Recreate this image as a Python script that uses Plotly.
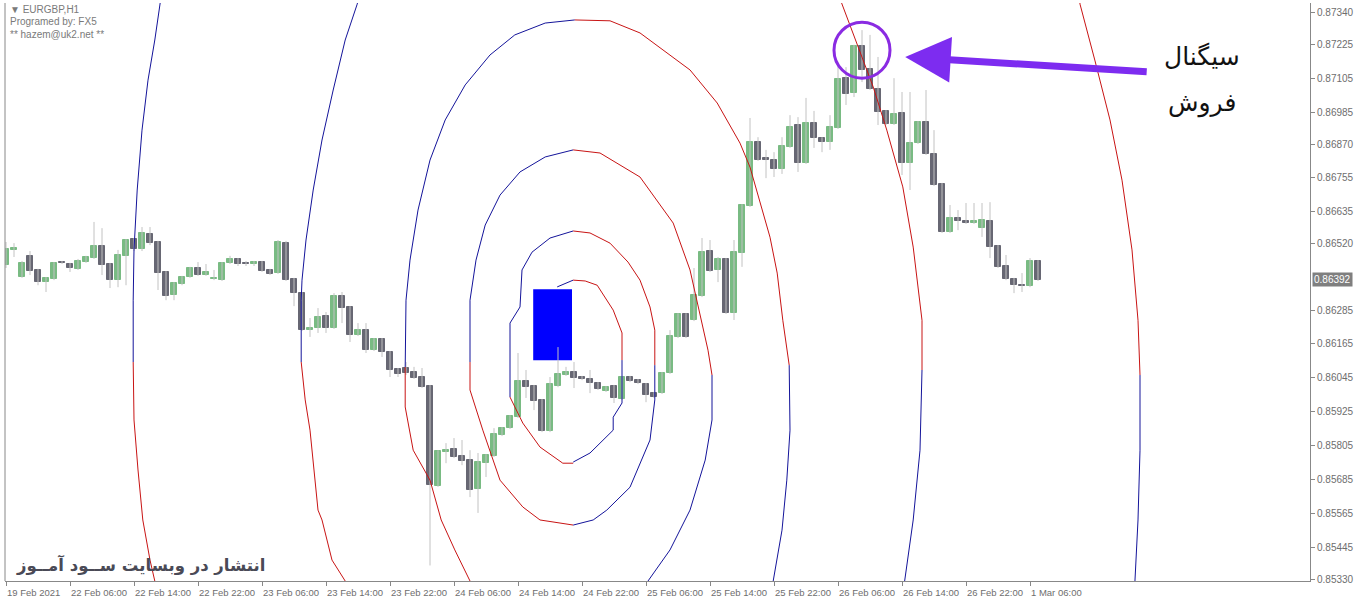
import plotly.graph_objects as go

# ---------------- data ----------------
opens = [0.86445,0.86498,0.86402,0.86477,0.86427,0.86384,0.86395,0.86455,0.86448,0.86431,
         0.86455,0.86469,0.86512,0.86448,0.86391,0.86477,0.86536,0.86501,0.86554,0.86526,
         0.86420,0.86338,0.86377,0.86402,0.86434,0.86409,0.86395,0.86391,0.86452,0.86466,
         0.86452,0.86448,0.86455,0.86427,0.86416,0.86522,0.86395,0.86345,0.86214,0.86221,
         0.86264,0.86221,0.86335,0.86295,0.86197,0.86214,0.86143,0.86182,0.86136,0.86077,
         0.86080,0.86066,0.86048,0.86016,0.85662,0.85782,0.85793,0.85768,0.85754,0.85651,
         0.85743,0.85768,0.85843,0.85867,0.85906,0.86034,0.86016,0.85967,0.85857,0.86016,
         0.86055,0.86066,0.86048,0.86041,0.86027,0.85998,0.86016,0.85970,0.86048,0.86037,
         0.86023,0.85991,0.85991,0.86062,0.86190,0.86271,0.86250,0.86335,0.86494,0.86427,
         0.86466,0.86274,0.86487,0.86653,0.86880,0.86823,0.86816,0.86784,0.86862,0.86940,
         0.86805,0.86947,0.86894,0.86880,0.86929,0.87106,0.87053,0.87220,0.87138,0.87067,
         0.86990,0.86944,0.86983,0.86805,0.86876,0.86951,0.86837,0.86731,0.86561,0.86611,
         0.86600,0.86593,0.86575,0.86600,0.86512,0.86441,0.86395,0.86373,0.86370,0.86459]
highs = [0.86526,0.86522,0.86459,0.86494,0.86431,0.86402,0.86455,0.86459,0.86452,0.86466,
         0.86477,0.86597,0.86575,0.86452,0.86498,0.86536,0.86540,0.86579,0.86579,0.86530,
         0.86423,0.86384,0.86406,0.86438,0.86455,0.86448,0.86427,0.86455,0.86477,0.86469,
         0.86459,0.86459,0.86459,0.86431,0.86533,0.86530,0.86399,0.86349,0.86257,0.86292,
         0.86278,0.86345,0.86349,0.86299,0.86239,0.86239,0.86186,0.86186,0.86140,0.86080,
         0.86101,0.86084,0.86080,0.86020,0.85789,0.85814,0.85832,0.85825,0.85789,0.85779,
         0.85775,0.85867,0.85871,0.85913,0.86133,0.86073,0.86020,0.85970,0.86048,0.86154,
         0.86084,0.86101,0.86052,0.86073,0.86030,0.86016,0.86020,0.86052,0.86052,0.86041,
         0.86027,0.85995,0.86066,0.86214,0.86274,0.86274,0.86434,0.86540,0.86533,0.86473,
         0.86469,0.86533,0.86660,0.86965,0.86897,0.86852,0.86844,0.86897,0.86975,0.86968,
         0.87036,0.86990,0.86897,0.86975,0.87145,0.87145,0.87224,0.87276,0.87259,0.87181,
         0.86993,0.87106,0.87057,0.87057,0.86954,0.87064,0.86922,0.86735,0.86657,0.86639,
         0.86664,0.86664,0.86664,0.86667,0.86515,0.86480,0.86399,0.86416,0.86469,0.86462]
lows = [0.86434,0.86473,0.86399,0.86409,0.86373,0.86349,0.86391,0.86448,0.86420,0.86427,
        0.86452,0.86466,0.86409,0.86363,0.86366,0.86373,0.86494,0.86494,0.86515,0.86356,
        0.86320,0.86320,0.86373,0.86399,0.86406,0.86406,0.86391,0.86388,0.86448,0.86441,
        0.86441,0.86441,0.86420,0.86409,0.86413,0.86388,0.86299,0.86211,0.86190,0.86204,
        0.86204,0.86218,0.86239,0.86172,0.86193,0.86133,0.86140,0.86119,0.86048,0.86048,
        0.86055,0.86041,0.86009,0.85381,0.85659,0.85743,0.85761,0.85736,0.85623,0.85567,
        0.85694,0.85765,0.85839,0.85864,0.85903,0.85974,0.85931,0.85853,0.85853,0.86012,
        0.86052,0.86009,0.86037,0.85991,0.86002,0.85995,0.85956,0.85967,0.86030,0.86023,
        0.85959,0.85974,0.85988,0.86059,0.86186,0.86186,0.86246,0.86331,0.86420,0.86384,
        0.86271,0.86250,0.86438,0.86650,0.86813,0.86752,0.86756,0.86767,0.86859,0.86774,
        0.86802,0.86859,0.86844,0.86852,0.86926,0.87011,0.87039,0.87092,0.87064,0.86940,
        0.86940,0.86940,0.86763,0.86710,0.86873,0.86834,0.86724,0.86558,0.86558,0.86568,
        0.86590,0.86590,0.86544,0.86469,0.86434,0.86391,0.86345,0.86349,0.86366,0.86388]
closes = [0.86501,0.86504,0.86452,0.86423,0.86384,0.86399,0.86452,0.86452,0.86434,0.86459,
          0.86473,0.86512,0.86445,0.86391,0.86480,0.86533,0.86501,0.86558,0.86522,0.86416,
          0.86335,0.86381,0.86402,0.86434,0.86409,0.86420,0.86399,0.86452,0.86466,0.86448,
          0.86448,0.86455,0.86423,0.86413,0.86526,0.86391,0.86345,0.86214,0.86221,0.86260,
          0.86221,0.86335,0.86292,0.86197,0.86214,0.86143,0.86182,0.86136,0.86073,0.86059,
          0.86062,0.86044,0.86012,0.85666,0.85786,0.85789,0.85765,0.85750,0.85648,0.85747,
          0.85772,0.85846,0.85867,0.85910,0.86034,0.86012,0.85963,0.85857,0.86023,0.86059,
          0.86066,0.86044,0.86041,0.86027,0.86005,0.86012,0.85974,0.86048,0.86034,0.86027,
          0.85984,0.85977,0.86062,0.86193,0.86271,0.86190,0.86338,0.86491,0.86423,0.86466,
          0.86274,0.86491,0.86657,0.86880,0.86816,0.86816,0.86784,0.86866,0.86933,0.86805,
          0.86947,0.86894,0.86880,0.86933,0.87103,0.87050,0.87220,0.87135,0.87067,0.86986,
          0.86944,0.86979,0.86805,0.86876,0.86951,0.86837,0.86728,0.86561,0.86611,0.86600,
          0.86593,0.86600,0.86604,0.86508,0.86438,0.86395,0.86373,0.86370,0.86459,0.86392]

x_tick_bars = [0, 8, 16, 24, 32, 40, 48, 56, 64, 72, 80, 88, 96, 104, 112, 120, 128]
x_tick_labels = ["19 Feb 2021", "22 Feb 06:00", "22 Feb 14:00", "22 Feb 22:00", "23 Feb 06:00",
                 "23 Feb 14:00", "23 Feb 22:00", "24 Feb 06:00", "24 Feb 14:00", "24 Feb 22:00",
                 "25 Feb 06:00", "25 Feb 14:00", "25 Feb 22:00", "26 Feb 06:00", "26 Feb 14:00",
                 "26 Feb 22:00", "1 Mar 06:00"]
y_tick_vals = [0.87340, 0.87225, 0.87105, 0.86985, 0.86870, 0.86755, 0.86635, 0.86520,
               0.86285, 0.86165, 0.86045, 0.85925, 0.85805, 0.85685, 0.85565, 0.85445, 0.85330]
y_tick_text = ["%.5f" % v for v in y_tick_vals]
last_price = 0.86392

# circle arcs (bar index, price); colour per segment
arc_segments = [
    # left side: upper parts blue, lower parts red
    ("blue", [19.6, 19.25, 18.6, 17.75, 17.0, 16.4, 16.0, 15.9, 15.9],
             [0.87436, 0.87368, 0.87241, 0.87099, 0.86922, 0.86710, 0.86498, 0.86320, 0.86101]),
    ("red",  [15.9, 16.0, 16.5, 17.1, 18.0, 18.6, 19.0],
             [0.86101, 0.85896, 0.85719, 0.85542, 0.85400, 0.85326, 0.85259]),
    ("blue", [44.5, 43.9, 42.4, 40.9, 39.5, 38.4, 37.5, 37.0, 36.9, 36.9],
             [0.87436, 0.87368, 0.87241, 0.87064, 0.86887, 0.86710, 0.86533, 0.86391, 0.86320, 0.86101]),
    ("red",  [36.9, 37.4, 38.0, 39.0, 39.5, 40.75, 42.4, 43.0],
             [0.86101, 0.85967, 0.85860, 0.85577, 0.85542, 0.85400, 0.85326, 0.85259]),
    ("blue", [71.1, 67.4, 63.6, 60.5, 57.4, 54.9, 53.0, 51.5, 50.5, 50.0, 49.9],
             [0.87312, 0.87301, 0.87259, 0.87188, 0.87082, 0.86958, 0.86816, 0.86639, 0.86462, 0.86320, 0.86083]),
    ("red",  [49.9, 49.9, 50.9, 53.0, 54.4, 56.1, 58.0, 59.0],
             [0.86083, 0.85942, 0.85789, 0.85683, 0.85542, 0.85436, 0.85326, 0.85259]),
    ("blue", [70.9, 67.4, 64.25, 61.75, 59.9, 58.75, 58.0, 58.0],
             [0.86852, 0.86827, 0.86774, 0.86692, 0.86586, 0.86462, 0.86320, 0.86101]),
    ("red",  [58.0, 58.0, 59.6, 61.75, 64.6, 66.75, 70.9],
             [0.86101, 0.86002, 0.85860, 0.85683, 0.85588, 0.85542, 0.85524]),
    ("blue", [70.9, 68.0, 65.75, 64.5, 64.25, 63.0, 63.0],
             [0.86565, 0.86540, 0.86490, 0.86427, 0.86296, 0.86239, 0.85977]),
    ("red",  [63.0, 64.6, 66.75, 69.6, 70.9],
             [0.85977, 0.85885, 0.85800, 0.85743, 0.85743]),
    # right side: upper parts red, lower parts blue
    ("blue", [68.9, 70.9], [0.86367, 0.86391]),
    ("red",  [70.9, 72.4, 73.9, 75.9, 77.0, 77.0],
             [0.86391, 0.86388, 0.86373, 0.86285, 0.86204, 0.86108]),
    ("blue", [77.0, 77.0, 75.9, 75.9, 73.0, 70.9],
             [0.86108, 0.85956, 0.85906, 0.85860, 0.85779, 0.85747]),
    ("red",  [70.9, 73.0, 75.5, 77.75, 79.25, 80.5, 81.1, 81.1],
             [0.86565, 0.86558, 0.86522, 0.86455, 0.86391, 0.86296, 0.86214, 0.86090]),
    ("blue", [81.1, 81.1, 80.5, 78.0, 75.1, 73.4, 70.9],
             [0.86090, 0.85967, 0.85825, 0.85658, 0.85577, 0.85542, 0.85524]),
    ("red",  [70.9, 74.25, 79.25, 83.4, 85.5, 86.75, 87.75, 88.25],
             [0.86852, 0.86841, 0.86756, 0.86593, 0.86427, 0.86274, 0.86143, 0.86055]),
    ("blue", [88.25, 88.25, 87.4, 85.5, 83.0, 80.25, 79.25],
             [0.86055, 0.85896, 0.85754, 0.85577, 0.85436, 0.85326, 0.85259]),
    ("red",  [71.1, 75.5, 79.25, 85.5, 88.9, 91.75, 93.0, 95.5, 96.4, 97.1, 97.9],
             [0.87312, 0.87309, 0.87266, 0.87135, 0.87018, 0.86876, 0.86791, 0.86543, 0.86416, 0.86249, 0.86090]),
    ("blue", [97.9, 98.0, 97.6, 97.0, 95.9, 95.5],
             [0.86090, 0.85860, 0.85683, 0.85506, 0.85326, 0.85259]),
    ("red",  [103.6, 105.25, 106.4, 108.4, 110.1, 112.1, 113.4, 114.0, 114.5, 114.5],
             [0.87436, 0.87312, 0.87219, 0.87075, 0.86922, 0.86721, 0.86508, 0.86367, 0.86249, 0.86073]),
    ("blue", [114.5, 114.25, 113.4, 112.4, 112.0],
             [0.86073, 0.85789, 0.85542, 0.85326, 0.85259]),
    ("red",  [134.0, 134.25, 136.1, 138.0, 139.5, 140.75, 141.5, 141.75],
             [0.87436, 0.87368, 0.87170, 0.86958, 0.86745, 0.86498, 0.86249, 0.86055]),
    ("blue", [141.75, 141.75, 141.5, 141.1, 141.0],
             [0.86055, 0.85789, 0.85542, 0.85326, 0.85259]),
]

box_bars = [65.9, 70.75]
box_prices = [0.86107, 0.86359]
signal_circle_bars = [103.5, 110.5]
signal_circle_prices = [0.87106, 0.87304]
arrow_head = (112.4, 0.87181)

# ---------------- figure ----------------
GREEN = "#79bb83"
DARK = "#676773"
WICK = "#c2c2c2"
LINE_BLUE = "#14149a"
LINE_RED = "#c81414"

n = len(opens)
idx = list(range(n))

fig = go.Figure()

# wicks
wx, wy = [], []
for i in idx:
    wx += [i, i, None]
    wy += [lows[i], highs[i], None]
fig.add_trace(go.Scatter(x=wx, y=wy, mode="lines", line=dict(color=WICK, width=1),
                         hoverinfo="skip", showlegend=False))

# bodies
base = [min(o, c) for o, c in zip(opens, closes)]
height = [abs(c - o) for o, c in zip(opens, closes)]
colors = [GREEN if c >= o else DARK for o, c in zip(opens, closes)]
fig.add_trace(go.Bar(x=idx, y=height, base=base, width=0.7,
                     marker=dict(color=colors, line=dict(color=colors, width=1)),
                     hoverinfo="skip", showlegend=False))

# arcs
for col, xs, ys in arc_segments:
    fig.add_trace(go.Scatter(x=xs, y=ys, mode="lines",
                             line=dict(color=LINE_BLUE if col == "blue" else LINE_RED, width=1),
                             hoverinfo="skip", showlegend=False))

# blue box
fig.add_shape(type="rect", x0=box_bars[0], x1=box_bars[1], y0=box_prices[0], y1=box_prices[1],
              fillcolor="#0000ff", line=dict(width=0), layer="below")

# signal circle
fig.add_shape(type="circle", x0=signal_circle_bars[0], x1=signal_circle_bars[1],
              y0=signal_circle_prices[0], y1=signal_circle_prices[1],
              line=dict(color="#8a2be2", width=3))

# arrow
fig.add_annotation(x=arrow_head[0], y=arrow_head[1], ax=243, ay=15, axref="pixel", ayref="pixel",
                   text="", showarrow=True, arrowhead=2, arrowsize=1.3, arrowwidth=7,
                   arrowcolor="#7d2cf0", standoff=0)

W, H = 1360, 602
L, R, T, B = 5, 50, 3, 21
pw, ph = W - L - R, H - T - B

fig.update_layout(
    width=W, height=H,
    margin=dict(l=L, r=R, t=T, b=B),
    paper_bgcolor="white", plot_bgcolor="white",
    bargap=0, showlegend=False, hovermode=False,
    font=dict(family="Liberation Sans", size=10, color="#666666"),
    xaxis=dict(range=[-0.125, 163], showgrid=False, zeroline=False,
               tickvals=x_tick_bars, ticktext=[""] * len(x_tick_bars),
               ticks="outside", ticklen=4, tickcolor="#888888",
               showline=True, linecolor="#888888", linewidth=1, mirror=False, fixedrange=True),
    yaxis=dict(range=[0.85326, 0.87372], side="right", showgrid=False, zeroline=False,
               tickvals=y_tick_vals, ticktext=y_tick_text,
               ticks="outside", ticklen=4, tickcolor="#888888",
               tickfont=dict(family="Liberation Sans", size=10, color="#6e6e6e"),
               showline=True, linecolor="#888888", linewidth=1, fixedrange=True),
)
# left frame line
fig.add_shape(type="line", xref="paper", yref="paper", x0=0, x1=0, y0=0, y1=1,
              line=dict(color="#888888", width=1))


def px_to_paper(xp, yp):
    return (xp - L) / pw, 1 - (yp - T) / ph


for txt, xp, yp in [("سیگنال", 1202, 57), ("فروش", 1202, 103)]:
    px, py = px_to_paper(xp, yp)
    fig.add_annotation(x=px, y=py, xref="paper", yref="paper", text=txt, showarrow=False,
                       font=dict(family="DejaVu Sans", size=25, color="#111111"),
                       xanchor="center", yanchor="middle")

px, py = px_to_paper(14, 565)
fig.add_annotation(x=px, y=py, xref="paper", yref="paper",
                   text="<b>انتشار در وبسایت ســود آمــوز</b>", showarrow=False,
                   font=dict(family="DejaVu Sans", size=16.5, color="#4a4a56"),
                   xanchor="left", yanchor="middle")

for txt, yp in [("▼ EURGBP,H1", 9), ("Programed by: FX5", 22), ("** hazem@uk2.net **", 34)]:
    px, py = px_to_paper(8, yp)
    fig.add_annotation(x=px, y=py, xref="paper", yref="paper", text=txt, showarrow=False,
                       font=dict(family="Liberation Sans", size=10, color="#7a7a7a"),
                       xanchor="left", yanchor="middle")

# time labels (left aligned at tick)
for b, lab in zip(x_tick_bars, x_tick_labels):
    fig.add_annotation(x=b, y=0, xref="x", yref="paper", text=lab, showarrow=False,
                       font=dict(family="Liberation Sans", size=9.5, color="#6e6e6e"),
                       xanchor="left", yanchor="top", xshift=-1, yshift=-4)

# last price label
fig.add_annotation(x=1, y=last_price, xref="paper", yref="y", text="%.5f" % last_price,
                   showarrow=False, bgcolor="#7f7f7f",
                   font=dict(family="Liberation Sans", size=10, color="white"),
                   xanchor="left", yanchor="middle", xshift=2, borderpad=1)

fig.write_html("out.html", config={"displayModeBar": False},
               post_script="document.body.style.margin='0';document.body.style.overflow='hidden';")
